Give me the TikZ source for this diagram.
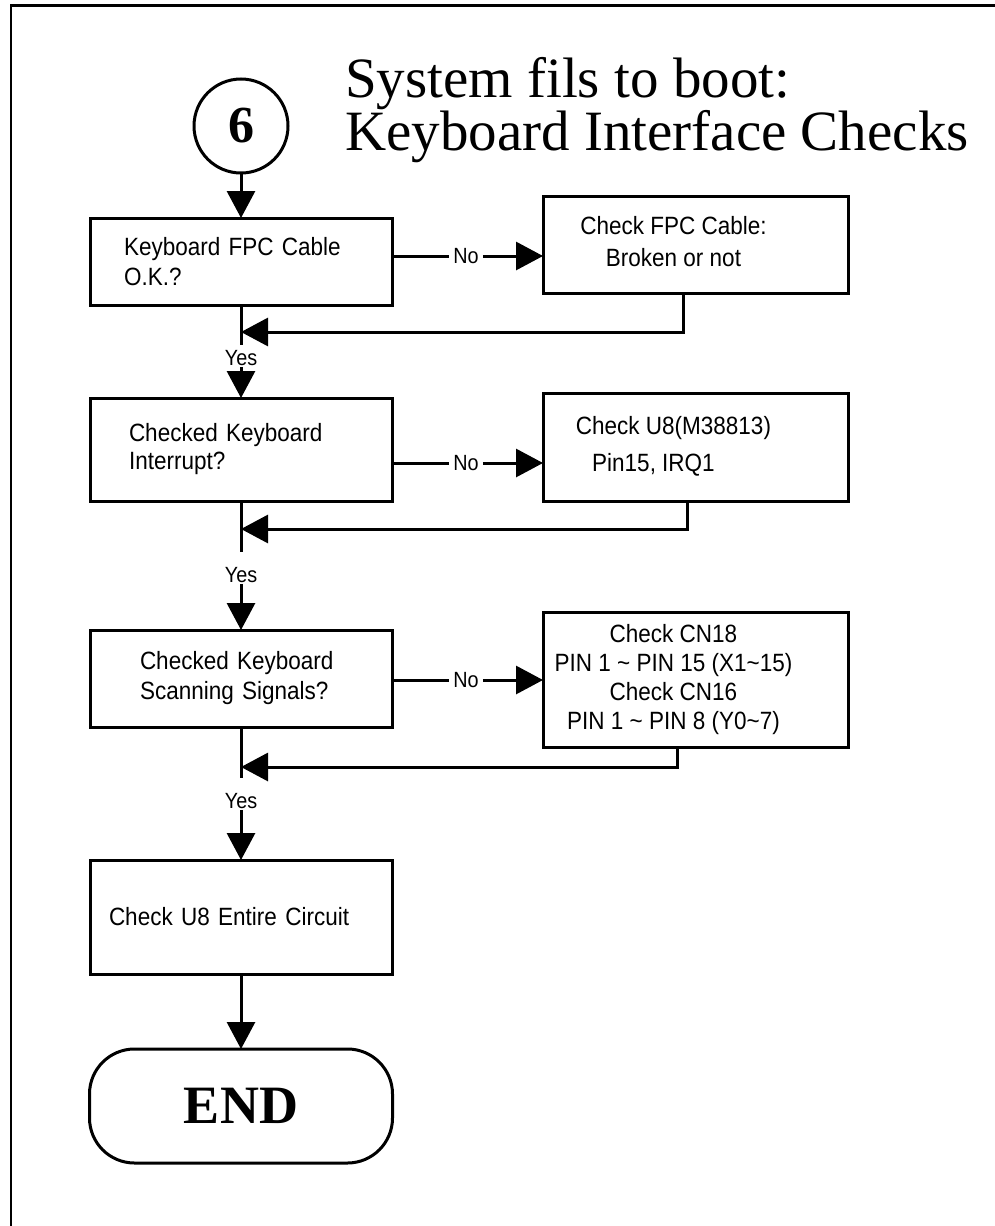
\documentclass[tikz,border=0pt]{standalone}
\usepackage{fontspec}
\setmainfont{Liberation Sans}
\newfontfamily\boxfont[FakeStretch=0.9]{Liberation Sans}
\newfontfamily\titlefont{Liberation Serif}
\usetikzlibrary{arrows.meta,positioning}
% centred lines, set a little left of the box middle
\newcommand{\chklines}[1]{\begin{tabular}{@{}c@{}}#1\end{tabular}\hspace*{44pt}}
\tikzset{
 box/.style={draw=black,line width=3pt,outer sep=0pt,inner xsep=0pt,
   font=\boxfont\fontsize{25}{30}\selectfont},
 qbox/.style={box,minimum width=302pt,align=left},
 cbox/.style={box,minimum width=305pt},
 startc/.style={circle,draw=black,line width=3pt,outer sep=0pt,minimum size=94pt,
   inner sep=0pt,font=\titlefont\bfseries\fontsize{52}{52}\selectfont},
 endbox/.style={draw=black,line width=3pt,outer sep=0pt,rounded corners=45pt,
   minimum width=303pt,minimum height=114pt,font=\titlefont\bfseries\fontsize{54}{54}\selectfont},
 lbl/.style={inner xsep=4pt,inner ysep=1pt,font=\boxfont\fontsize{22}{24}\selectfont},
 arrow/.style={-{Triangle[length=27pt,width=28pt]},line width=3pt,draw=black}
}
\begin{document}
\begin{tikzpicture}[x=1pt,y=-1pt]
 \useasboundingbox (0,0) rectangle (995,1226);
 \draw[line width=2.6pt] (11,1226) -- (11,5.5) -- (995,5.5);
 \node[anchor=base west,align=left,inner sep=0pt,font=\titlefont\fontsize{57}{53}\selectfont] (title) at (345,150)
   {System fils to boot:\\Keyboard Interface Checks};
 \node[startc] (start) at (241,126) {6};
 \node[qbox,below=45pt of start,minimum height=87pt,text width=234pt] (cable) {Keyboard FPC Cable\\O.K.?};
 \node[cbox,right=151pt of cable,yshift=17pt,minimum height=97pt] (fixcable) {\chklines{Check FPC Cable:\\[2pt]Broken or not}};
 \node[qbox,below=93pt of cable,minimum height=103pt,text width=224pt] (irq) {Checked Keyboard\\[-2pt]Interrupt?};
 \node[cbox,right=151pt of irq,yshift=2.5pt,minimum height=108pt] (fixirq) {\chklines{Check U8(M38813)\\[7pt]Pin15, IRQ1\hspace*{40pt}}};
 \node[qbox,below=129pt of irq,minimum height=97pt,text width=202pt] (scan) {Checked Keyboard\\Scanning Signals?};
 \node[cbox,right=151pt of scan,yshift=-1pt,minimum height=135pt] (fixscan)
   {\chklines{Check CN18\\[-1pt]PIN 1 \textasciitilde{} PIN 15 (X1\textasciitilde 15)\\[-1pt]Check CN16\\[-1pt]PIN 1 \textasciitilde{} PIN 8 (Y0\textasciitilde 7)}};
 \node[qbox,below=133pt of scan,minimum height=114pt,text width=264pt] (circuit) {Check U8 Entire Circuit};
 \node[endbox,below=75pt of circuit] (finish) {END};
 % joins and labels
 \coordinate (j1) at ([yshift=-27pt]cable.south);
 \coordinate (e1) at ([yshift=-40pt]cable.south);
 \node[lbl] (yes1) at ([yshift=-53pt]cable.south) {Yes};
 \coordinate (j2) at ([yshift=-28pt]irq.south);
 \coordinate (e2) at ([yshift=-51pt]irq.south);
 \node[lbl] (yes2) at ([yshift=-74pt]irq.south) {Yes};
 \coordinate (j3) at ([yshift=-40pt]scan.south);
 \coordinate (e3) at ([yshift=-51pt]scan.south);
 \node[lbl] (yes3) at ([yshift=-74pt]scan.south) {Yes};
 \node[lbl] (no1) at ([xshift=74pt,yshift=5.5pt]cable.east) {No};
 \node[lbl] (no2) at ([xshift=74pt,yshift=-13.5pt]irq.east) {No};
 \node[lbl] (no3) at ([xshift=74pt,yshift=-1.5pt]scan.east) {No};
 \draw[arrow] (start) -- (cable);
 \draw[line width=3pt] (cable.east |- no1) -- (no1);
 \draw[arrow] (no1) -- (fixcable.west |- no1);
 \draw[arrow] ([xshift=-12.5pt]fixcable.south) |- (j1);
 \draw[line width=3pt] (cable.south) -- (e1);
 \draw[arrow] (yes1) -- (irq);
 \draw[line width=3pt] (irq.east |- no2) -- (no2);
 \draw[arrow] (no2) -- (fixirq.west |- no2);
 \draw[arrow] ([xshift=-8.5pt]fixirq.south) |- (j2);
 \draw[line width=3pt] (irq.south) -- (e2);
 \draw[arrow] (yes2) -- (scan);
 \draw[line width=3pt] (scan.east |- no3) -- (no3);
 \draw[arrow] (no3) -- (fixscan.west |- no3);
 \draw[arrow] ([xshift=-18pt]fixscan.south) |- (j3);
 \draw[line width=3pt] (scan.south) -- (e3);
 \draw[arrow] (yes3) -- (circuit);
 \draw[arrow] (circuit) -- (finish);
\end{tikzpicture}
\end{document}
